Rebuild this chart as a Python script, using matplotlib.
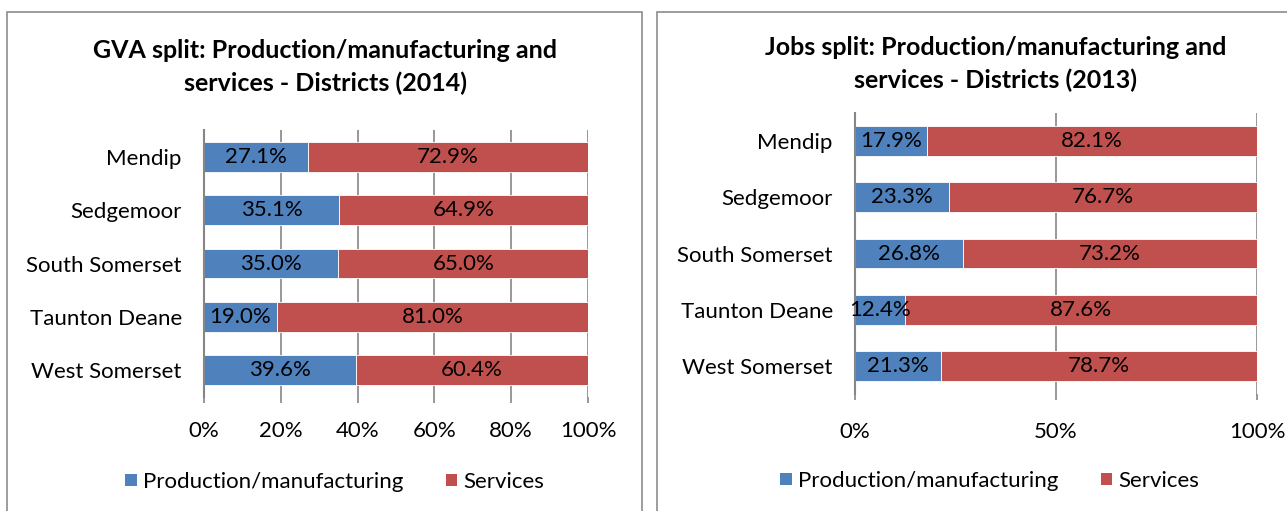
import matplotlib
matplotlib.use('Agg')
import matplotlib.pyplot as plt
from matplotlib.patches import Rectangle, Patch

plt.rcParams['font.family'] = ['Lato', 'DejaVu Sans']

districts = ['Mendip', 'Sedgemoor', 'South Somerset', 'Taunton Deane', 'West Somerset']
gva_production = [27.1, 35.1, 35.0, 19.0, 39.6]
gva_services = [72.9, 64.9, 65.0, 81.0, 60.4]
jobs_production = [17.9, 23.3, 26.8, 12.4, 21.3]
jobs_services = [82.1, 76.7, 73.2, 87.6, 78.7]
gva_ticks = [0, 20, 40, 60, 80, 100]
jobs_ticks = [0, 50, 100]

BLUE = '#4F81BD'
RED = '#C0504D'
GREY = '#868686'
FS = 16

W, H = 1287, 511
fig = plt.figure(figsize=(W / 100, H / 100), dpi=100)


def px(x0, y0, x1, y1):
    return [x0 / W, 1 - y1 / H, (x1 - x0) / W, (y1 - y0) / H]


def stacked(ax, prod, serv, ticks, bar_h, label_pad):
    y = range(len(districts))
    ax.barh(y, prod, height=bar_h, color=BLUE, edgecolor='white', linewidth=0.6, zorder=2)
    ax.barh(y, serv, left=prod, height=bar_h, color=RED, edgecolor='white', linewidth=0.6, zorder=2)
    for i, (p, s) in enumerate(zip(prod, serv)):
        ax.text(p / 2, i, f'{p:.1f}%', ha='center', va='center', fontsize=FS, zorder=3)
        ax.text(p + s / 2, i, f'{s:.1f}%', ha='center', va='center', fontsize=FS, zorder=3)
    ax.set_xlim(0, 100)
    ax.set_ylim(len(districts) - 0.5, -0.5)
    ax.set_yticks(list(y))
    ax.set_yticklabels(districts, fontsize=FS)
    ax.set_xticks(ticks)
    ax.set_xticklabels([f'{t}%' for t in ticks], fontsize=FS)
    ax.tick_params(axis='y', length=0, pad=16)
    ax.tick_params(axis='x', length=4, color=GREY, width=1.2, pad=label_pad)
    ax.grid(axis='x', color=GREY, linewidth=1.2, zorder=0)
    ax.set_axisbelow(True)
    for s in ['top', 'right', 'bottom']:
        ax.spines[s].set_visible(False)
    ax.spines['left'].set_color(GREY)
    ax.spines['left'].set_linewidth(1.5)


# chart borders
fig.patches.append(Rectangle((7 / W, -0.1), 635 / W, 1 - 12 / H + 0.1, transform=fig.transFigure,
                             fill=False, edgecolor='#8C8C8C', linewidth=1.2))
fig.patches.append(Rectangle((657 / W, -0.1), 0.5, 1 - 12 / H + 0.1, transform=fig.transFigure,
                             fill=False, edgecolor='#8C8C8C', linewidth=1.2))

ax1 = fig.add_axes(px(204, 130, 588, 397))
stacked(ax1, gva_production, gva_services, gva_ticks, 0.56, 13.5)
for txt, yy in [('GVA split: Production/manufacturing and', 50), ('services - Districts (2014)', 83)]:
    fig.text(325 / W, 1 - yy / H, txt, ha='center', va='center', fontsize=18, fontweight='bold')

ax2 = fig.add_axes(px(855, 113, 1257, 394))
stacked(ax2, jobs_production, jobs_services, jobs_ticks, 0.53, 16.5)
for txt, yy in [('Jobs split: Production/manufacturing and', 47), ('services - Districts (2013)', 80)]:
    fig.text(996 / W, 1 - yy / H, txt, ha='center', va='center', fontsize=18, fontweight='bold')

handles = [Patch(facecolor=BLUE), Patch(facecolor=RED)]
labels = ['Production/manufacturing', 'Services']
for cx, cy in [(335, 482), (990, 481)]:
    fig.legend(handles, labels, loc='center', bbox_to_anchor=(cx / W, 1 - cy / H), ncol=2,
               frameon=False, fontsize=FS, handlelength=0.5, handleheight=0.5,
               handletextpad=0.3, columnspacing=1.9)

fig.savefig('out.png', dpi=100)
